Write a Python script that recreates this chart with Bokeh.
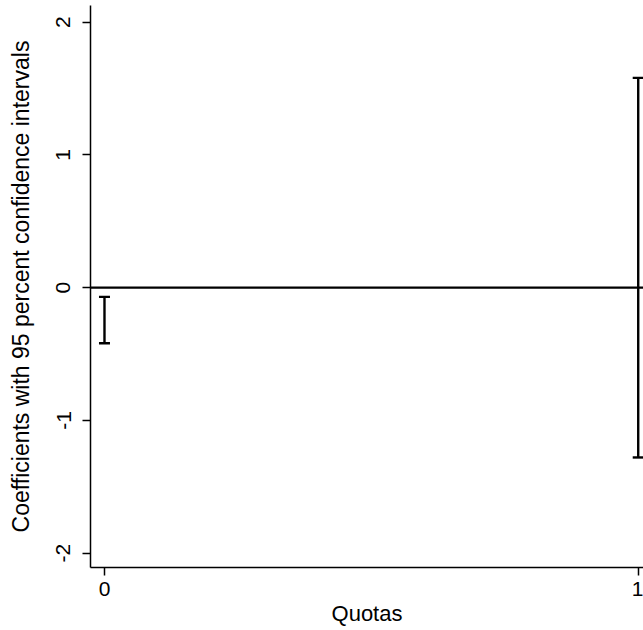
from bokeh.plotting import figure
from bokeh.models import ColumnDataSource, Whisker, TeeHead, Span, FixedTicker, Range1d
from bokeh.embed import file_html
from bokeh.resources import INLINE

# Data
categories = [0, 1]
lower = [-0.42, -1.28]
upper = [-0.07, 1.58]
x_ticks = [0, 1]
y_ticks = [-2, -1, 0, 1, 2]
y_tick_labels = {-2: "-2", -1: "-1", 0: "0", 1: "1", 2: "2"}
x_label = "Quotas"
y_label = "Coefficients with 95 percent confidence intervals"

FONT = "Liberation Sans"

p = figure(width=643, height=630, output_backend="svg", toolbar_location=None,
           x_range=Range1d(-0.0262, 1.0099), y_range=Range1d(-2.109, 2.125),
           min_border_left=90, min_border_right=0, min_border_top=5, min_border_bottom=63)

p.outline_line_color = None
p.xgrid.visible = False
p.ygrid.visible = False
p.background_fill_color = "white"
p.border_fill_color = "white"

src = ColumnDataSource(dict(x=categories, lower=lower, upper=upper))

zero = Span(location=0, dimension="width", line_color="black", line_width=2.2)
p.add_layout(zero)

w = Whisker(source=src, base="x", upper="upper", lower="lower", dimension="height",
            line_color="black", line_width=2.4,
            upper_head=TeeHead(size=11, line_color="black", line_width=2.4),
            lower_head=TeeHead(size=11, line_color="black", line_width=2.4))
p.add_layout(w)

for ax in (p.xaxis[0], p.yaxis[0]):
    ax.axis_line_color = "black"
    ax.axis_line_width = 1.5
    ax.major_tick_line_color = "black"
    ax.major_tick_line_width = 1.5
    ax.major_tick_in = 0
    ax.major_tick_out = 8
    ax.minor_tick_line_color = None
    ax.major_label_text_font = FONT
    ax.major_label_text_font_size = "21px"
    ax.major_label_text_color = "black"
    ax.axis_label_text_font = FONT
    ax.axis_label_text_font_style = "normal"
    ax.axis_label_text_color = "black"

p.xaxis.axis_label_text_font_size = "22px"
p.yaxis.axis_label_text_font_size = "23px"
p.xaxis.ticker = FixedTicker(ticks=x_ticks)
p.yaxis.ticker = FixedTicker(ticks=y_ticks)
p.yaxis.major_label_overrides = y_tick_labels
p.yaxis.major_label_orientation = "vertical"
p.xaxis.axis_label = x_label
p.yaxis.axis_label = y_label
p.xaxis.major_label_standoff = 6
p.xaxis.axis_label_standoff = 2
p.yaxis.major_label_standoff = 12
p.yaxis.axis_label_standoff = 20

open("out.html", "w").write(file_html(p, INLINE))
